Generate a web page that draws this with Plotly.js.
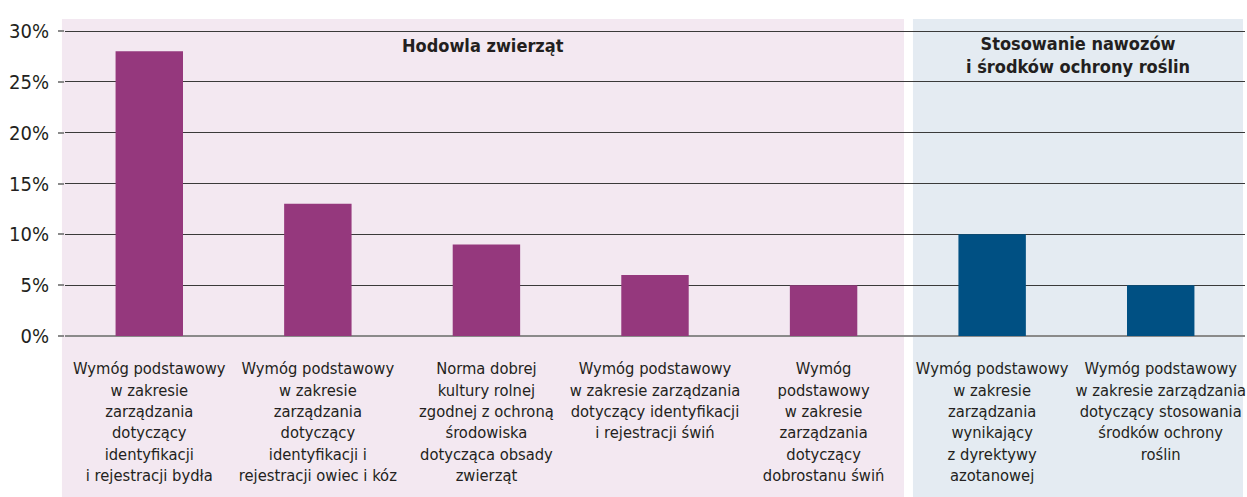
<!DOCTYPE html>
<html>
<head>
<meta charset="utf-8">
<script src="https://cdn.plot.ly/plotly-3.0.1.min.js"></script>
<style>html,body{margin:0;padding:0;background:#fff;}#chart{width:1247px;height:497px;}</style>
</head>
<body>
<div id="chart"></div>
<script>
const categories = [
  "Wymóg podstawowy<br>w zakresie<br>zarządzania<br>dotyczący<br>identyfikacji<br>i rejestracji bydła",
  "Wymóg podstawowy<br>w zakresie<br>zarządzania<br>dotyczący<br>identyfikacji i<br>rejestracji owiec i kóz",
  "Norma dobrej<br>kultury rolnej<br>zgodnej z ochroną<br>środowiska<br>dotycząca obsady<br>zwierząt",
  "Wymóg podstawowy<br>w zakresie zarządzania<br>dotyczący identyfikacji<br>i rejestracji świń",
  "Wymóg<br>podstawowy<br>w zakresie<br>zarządzania<br>dotyczący<br>dobrostanu świń",
  "Wymóg podstawowy<br>w zakresie<br>zarządzania<br>wynikający<br>z dyrektywy<br>azotanowej",
  "Wymóg podstawowy<br>w zakresie zarządzania<br>dotyczący stosowania<br>środków ochrony<br>roślin"
];
const values = [28, 13, 9, 6, 5, 10, 5];
const groups = ["A", "A", "A", "A", "A", "B", "B"];
const groupTitles = ["Hodowla zwierząt", "Stosowanie nawozów<br>i środków ochrony roślin"];
const yTicks = [0, 5, 10, 15, 20, 25, 30];
const yTickText = ["0%", "5%", "10%", "15%", "20%", "25%", "30%"];

const FONT = '"Liberation Sans Narrow", "DejaVu Sans Condensed", "Roboto Condensed", sans-serif';
const colors = groups.map(g => g === "A" ? "#95387d" : "#005083");
const xIdx = categories.map((c, i) => i);

const trace = {
  type: "bar",
  x: xIdx,
  y: values,
  width: 0.4,
  marker: {color: colors, line: {width: 0}},
  hoverinfo: "skip",
  cliponaxis: false
};

const layout = {
  width: 1247, height: 497,
  margin: {l: 65, r: 2, t: 30, b: 160},
  paper_bgcolor: "#ffffff",
  plot_bgcolor: "rgba(0,0,0,0)",
  showlegend: false,
  bargap: 0.6,
  font: {family: FONT, color: "#231f20"},
  xaxis: {
    range: [-0.5, 6.5],
    tickvals: xIdx,
    ticktext: categories,
    tickangle: 0,
    ticks: "",
    ticklabelstandoff: 20,
    ticklabeloverflow: "allow",
    showgrid: false,
    zeroline: false,
    showline: false,
    tickfont: {family: FONT, size: 16.4, color: "#231f20"},
    fixedrange: true
  },
  yaxis: {
    range: [-0.1, 30.1],
    tickvals: yTicks,
    ticktext: yTickText,
    ticks: "outside",
    ticklen: 6,
    tickcolor: "#8a8a8a",
    tickwidth: 2,
    ticklabelstandoff: 5,
    showgrid: true,
    gridcolor: "#3a3a3a",
    gridwidth: 1,
    zeroline: true,
    zerolinecolor: "#8a8a8a",
    zerolinewidth: 2,
    showline: false,
    tickfont: {family: FONT, size: 20, color: "#231f20"},
    fixedrange: true
  },
  shapes: [
    {type: "rect", xref: "paper", yref: "paper", x0: -0.0026, x1: 0.7110, y0: -0.53, y1: 1.036,
     fillcolor: "#f3e8f1", line: {width: 0}, layer: "below"},
    {type: "rect", xref: "paper", yref: "paper", x0: 0.7186, x1: 0.9983, y0: -0.53, y1: 1.036,
     fillcolor: "#e4ebf2", line: {width: 0}, layer: "below"}
  ],
  annotations: [
    {xref: "paper", yref: "paper", x: (-0.0026 + 0.7110) / 2, y: 0.95, text: "<b>" + groupTitles[0] + "</b>",
     showarrow: false, font: {family: FONT, size: 18, color: "#231f20"}, xanchor: "center", yanchor: "middle"},
    {xref: "paper", yref: "paper", x: (0.7186 + 0.9983) / 2, y: 0.918, text: "<b>" + groupTitles[1] + "</b>",
     showarrow: false, font: {family: FONT, size: 18, color: "#231f20"}, xanchor: "center", yanchor: "middle"}
  ]
};

Plotly.newPlot("chart", [trace], layout, {displayModeBar: false, staticPlot: true});
</script>
</body>
</html>
